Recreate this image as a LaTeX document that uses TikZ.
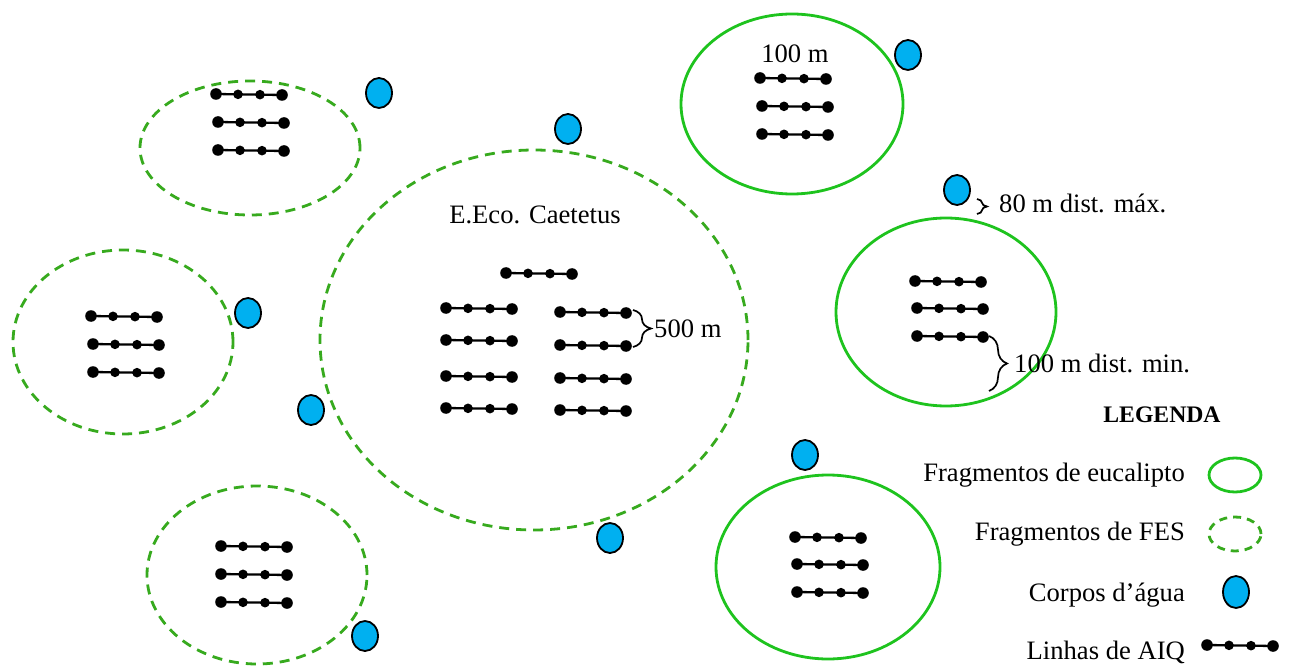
\documentclass[tikz,border=0pt]{standalone}
\usepackage{fontspec}
\setmainfont{Liberation Serif}
\usetikzlibrary{decorations.pathreplacing}
\definecolor{eucg}{RGB}{30,195,30}
\definecolor{fesg}{RGB}{55,170,30}
\definecolor{aguab}{RGB}{0,176,240}
\tikzset{
  euc/.style={draw=eucg, line width=2.8pt},
  fes/.style={draw=fesg, line width=2.8pt, dash pattern=on 10pt off 7pt},
  agua/.style={draw=black, fill=aguab, line width=1.8pt},
  aiq/.pic={
    \draw[line width=2.3pt] (0,0) -- (66,1);
    \fill (0,0) circle (5.8pt);
    \fill (22,0.33) circle (4.8pt);
    \fill (44,0.67) circle (4.8pt);
    \fill (66,1) circle (5.8pt);
  },
  lbl/.style={font=\fontsize{26.6}{30}\selectfont, inner sep=0pt},
  brc/.style={decorate, decoration={brace, amplitude=#1}, line width=1.7pt},
  brc/.default=18pt
}
\begin{document}
\begin{tikzpicture}[x=1pt,y=-1pt]
\useasboundingbox (0,0) rectangle (1290,668);

% fragments
\draw[fes] (250,148) ellipse [x radius=110pt, y radius=67pt];
\draw[fes] (123,342) ellipse [x radius=110pt, y radius=92pt];
\draw[fes] (257,575) ellipse [x radius=110pt, y radius=89pt];
\draw[fes] (534,340) ellipse [x radius=214pt, y radius=190pt];
\draw[euc] (792,104) ellipse [x radius=111pt, y radius=90pt];
\draw[euc] (946,312) ellipse [x radius=110pt, y radius=94pt];
\draw[euc] (828,567) ellipse [x radius=112pt, y radius=92pt];

% water bodies
\foreach \p in {(379,93),(568,129),(908,55),(957,190),(248,313),(311,410),(805,455),(610,538),(365,636)}
  \draw[agua] \p ellipse [x radius=13pt, y radius=15pt];

% AIQ lines
\foreach \x/\y in {216/94,218/122,218/150,
                   91/316,93/344,93/372,
                   221/546,221/574,221/602,
                   506/273,
                   446/308,446/340,446/376,446/408,
                   560/312,560/345,560/378,560/410,
                   760/78,762/106,762/134,
                   915/281,917/308,917/336,
                   795/537,797/564,797/592}
  \pic at (\x,\y) {aiq};

% labels
\node[lbl, anchor=base] (t100) at (795,63) {100 m};
\node[lbl, anchor=base] (caet) at (535,224) {E.Eco. Caetetus};

% braces
\coordinate (b500a) at (633,310);
\coordinate (b500b) at (633,347);
\draw[brc=18pt] (b500a) -- (b500b);
\node[lbl, anchor=base west] (t500) at (654,337) {500 m};

\coordinate (b80a) at (977,199);
\coordinate (b80b) at (977,214);
\draw[brc=10pt] (b80a) -- (b80b);
\node[lbl, anchor=base west] (t80) at (999,213) {80 m dist. máx.};

\coordinate (bmina) at (989,336);
\coordinate (bminb) at (989,391);
\draw[brc=18pt] (bmina) -- (bminb);
\node[lbl, anchor=base west] (tmin) at (1014,372) {100 m dist. min.};

% legend
\node[lbl, anchor=base, font=\fontsize{23.7}{27}\selectfont\bfseries] (leg) at (1162,422) {LEGENDA};
\node[lbl, anchor=base east] (l1) at (1185,481) {Fragmentos de eucalipto};
\node[lbl, anchor=base east] (l2) at (1185,540) {Fragmentos de FES};
\node[lbl, anchor=base east] (l3) at (1185,601) {Corpos d’água};
\node[lbl, anchor=base east] (l4) at (1185,659) {Linhas de AIQ};
\draw[euc] (1235,475) ellipse [x radius=26pt, y radius=17pt];
\draw[fes, dash pattern=on 8pt off 6pt] (1235,534) ellipse [x radius=26pt, y radius=17pt];
\draw[agua] (1236,592) ellipse [x radius=13pt, y radius=16pt];
\pic at (1207,645) {aiq};
\end{tikzpicture}
\end{document}
